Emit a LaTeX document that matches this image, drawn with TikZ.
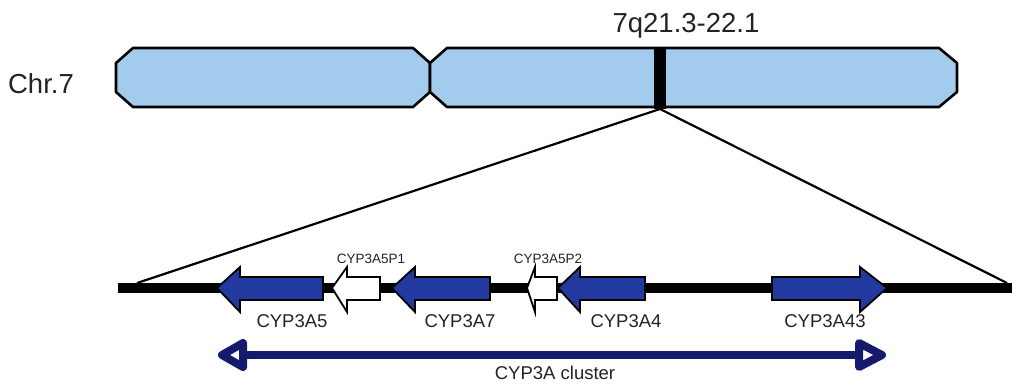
\documentclass[tikz,border=0pt]{standalone}
\usepackage{fontspec}
\setmainfont{Liberation Sans}
\definecolor{chromblue}{RGB}{163,203,238}
\definecolor{geneblue}{RGB}{34,58,160}
\definecolor{clusternavy}{RGB}{22,26,108}
\definecolor{txtgray}{RGB}{35,35,35}
\tikzset{
    chrom/.style={draw=black, line width=2.6pt, fill=chromblue, line join=round},
    gene/.style={draw=black, line width=1.8pt, line join=miter},
    biglbl/.style={inner sep=0pt, anchor=base, text=txtgray, font=\fontsize{27.5}{30}\selectfont},
    genelbl/.style={inner sep=0pt, anchor=base, text=txtgray, font=\fontsize{18.5}{20}\selectfont},
    pseudolbl/.style={inner sep=0pt, anchor=base, text=txtgray, font=\fontsize{13.5}{15}\selectfont},
    zoomline/.style={line width=2.2pt},
    clusterline/.style={draw=clusternavy, line width=8pt, line join=round}
}
% gene arrow pointing left: tip, head base, end, fill
\newcommand{\geneleft}[4]{%
    \draw[gene, fill=#4] (#1,288) -- (#2,267) -- (#2,277) -- (#3,277) -- (#3,300) -- (#2,300) -- (#2,312) -- cycle;}
% gene arrow pointing right: start, head base, tip, fill
\newcommand{\generight}[4]{%
    \draw[gene, fill=#4] (#1,277) -- (#2,277) -- (#2,267) -- (#3,288) -- (#2,312) -- (#2,300) -- (#1,300) -- cycle;}
\begin{document}
\begin{tikzpicture}[x=1pt, y=-1pt]
    \useasboundingbox (0,0) rectangle (1012,388);

    % chromosome 7
    \node[biglbl] (chr) at (41,93) {Chr.7};
    \draw[chrom] (133,48) -- (413,48) -- (430,63) -- (430,92) -- (413,107) -- (133,107)
        -- (116,92) -- (116,63) -- cycle;
    \draw[chrom] (447,48) -- (939,48) -- (957,63) -- (957,92) -- (939,107) -- (447,107)
        -- (430,92) -- (430,63) -- cycle;
    \fill[black] (654,47) rectangle (666,109);
    \node[biglbl] (band) at (686,32) {7q21.3-22.1};

    % zoom onto the region
    \coordinate (bandfoot) at (660,109);
    \coordinate (zoomL) at (137,283);
    \coordinate (zoomR) at (1007,283);
    \draw[zoomline] (bandfoot) -- (zoomL);
    \draw[zoomline] (bandfoot) -- (zoomR);

    % genomic line
    \coordinate (lineL) at (118,288);
    \coordinate (lineR) at (1012,288);
    \draw[line width=10pt] (lineL) -- (lineR);

    % genes
    \geneleft{217}{240}{323}{geneblue}
    \geneleft{332}{347}{380}{white}
    \geneleft{392}{415}{490}{geneblue}
    \geneleft{527}{535}{557}{white}
    \geneleft{558}{580}{645}{geneblue}
    \generight{772}{860}{887}{geneblue}

    \node[genelbl] (a5) at (292,327) {CYP3A5};
    \node[pseudolbl] (a5p1) at (371,263) {CYP3A5P1};
    \node[genelbl] (a7) at (460,327) {CYP3A7};
    \node[pseudolbl] (a5p2) at (548,263) {CYP3A5P2};
    \node[genelbl] (a4) at (626,327) {CYP3A4};
    \node[genelbl] (a43) at (825,327) {CYP3A43};

    % cluster
    \coordinate (clL) at (222,355);
    \coordinate (clR) at (882,355);
    \draw[clusterline] (clL) -- (clR);
    \draw[clusterline, fill=white] (clL) -- ++(21,-12) -- ++(0,24) -- cycle;
    \draw[clusterline, fill=white] (clR) -- ++(-23,-12) -- ++(0,24) -- cycle;
    \node[genelbl] (cl) at (555,379) {CYP3A cluster};
\end{tikzpicture}
\end{document}
